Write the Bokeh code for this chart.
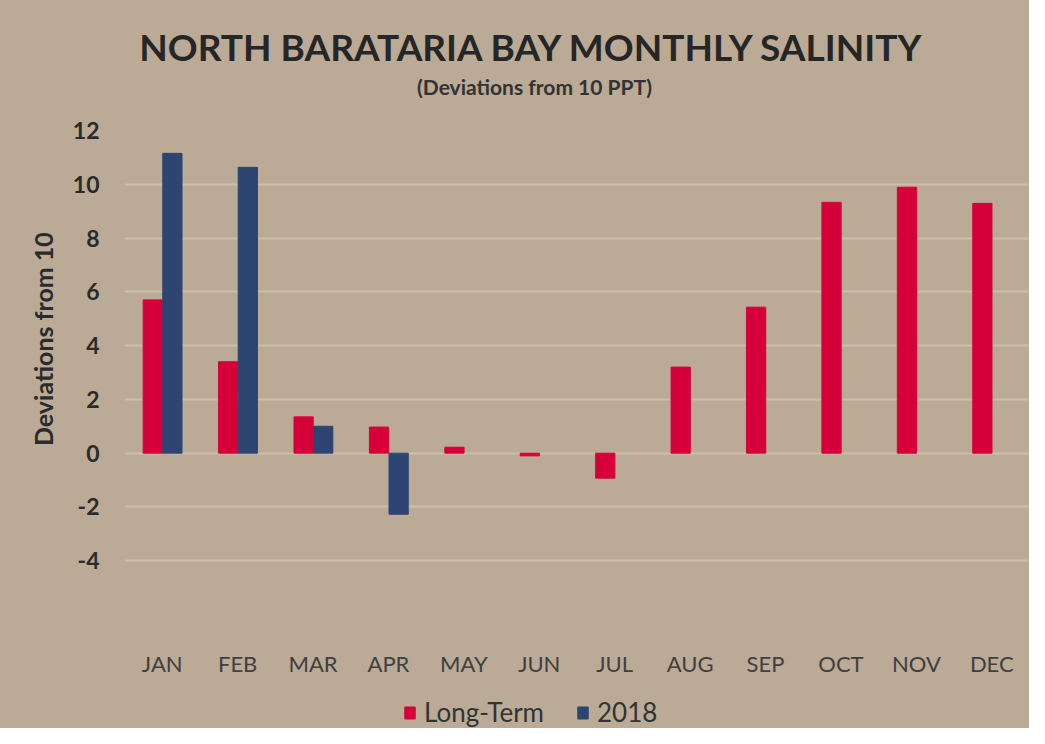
from bokeh.plotting import figure
from bokeh.layouts import column
from bokeh.models import (ColumnDataSource, FactorRange, Range1d, FixedTicker,
                          Legend, LegendItem, Label, CustomJSTickFormatter)
from bokeh.transform import dodge
from bokeh.embed import file_html
from bokeh.resources import INLINE

months = ["JAN", "FEB", "MAR", "APR", "MAY", "JUN", "JUL", "AUG", "SEP", "OCT", "NOV", "DEC"]
long_term = [5.7, 3.4, 1.35, 0.97, 0.22, -0.1, -0.93, 3.2, 5.43, 9.33, 9.89, 9.29]
y2018 = [11.15, 10.63, 1.0, -2.27, None, None, None, None, None, None, None, None]
y_ticks = [-4, -2, 0, 2, 4, 6, 8, 10, 12]
series_names = ["Long-Term", "2018"]
title_text = "NORTH BARATARIA BAY MONTHLY SALINITY"
subtitle_text = "(Deviations from 10 PPT)"
y_label = "Deviations from 10"

BG = "#baaa96"
RED = "#d5003a"
BLUE = "#2d4570"
FONT = "Lato"
W = 1029
LEFT = 124  # frame left edge; column layout aligns every frame to it


def strip(height):
    f = figure(width=W, height=height, x_range=Range1d(LEFT, W), y_range=Range1d(0, height),
               output_backend="svg", toolbar_location=None,
               min_border_left=LEFT, min_border_right=0,
               min_border_top=0, min_border_bottom=0)
    f.axis.visible = False
    f.grid.visible = False
    f.outline_line_color = None
    f.background_fill_color = BG
    f.border_fill_color = BG
    return f


# header with title + subtitle
head = strip(110)
head.add_layout(Label(x=532, y=64, text=title_text, text_align="center",
                      text_baseline="middle", text_font=FONT, text_font_style="bold",
                      text_font_size="37px", text_color="#262626"))
head.add_layout(Label(x=534, y=24, text=subtitle_text, text_align="center",
                      text_baseline="middle", text_font=FONT, text_font_style="bold",
                      text_font_size="21px", text_color="#333333"))

src = ColumnDataSource(dict(month=months, lt=long_term,
                            y18=[float("nan") if v is None else v for v in y2018]))

p = figure(x_range=FactorRange(*months), y_range=Range1d(-6, 12),
           width=W, height=580, output_backend="svg", toolbar_location=None,
           min_border_left=LEFT, min_border_right=0, min_border_top=20,
           min_border_bottom=76)

p.background_fill_color = BG
p.border_fill_color = BG
p.outline_line_color = None

r1 = p.vbar(x=dodge("month", -0.125, range=p.x_range), top="lt", bottom=0,
            width=0.255, source=src, color=RED)
r2 = p.vbar(x=dodge("month", 0.135, range=p.x_range), top="y18", bottom=0,
            width=0.255, source=src, color=BLUE)

p.xgrid.grid_line_color = None
p.ygrid.grid_line_color = "#ccbeaa"
p.ygrid.grid_line_width = 2

p.yaxis.ticker = FixedTicker(ticks=y_ticks)
p.yaxis.formatter = CustomJSTickFormatter(code="return String(tick);")
p.yaxis.axis_line_color = None
p.yaxis.major_tick_line_color = None
p.yaxis.minor_tick_line_color = None
p.yaxis.major_label_text_font = FONT
p.yaxis.major_label_text_font_style = "bold"
p.yaxis.major_label_text_font_size = "23px"
p.yaxis.major_label_text_color = "#2b2b2b"
p.yaxis.major_label_standoff = 19
p.yaxis.axis_label = "\u00a0" * 11 + y_label
p.yaxis.axis_label_text_font = FONT
p.yaxis.axis_label_text_font_style = "bold"
p.yaxis.axis_label_text_font_size = "25px"
p.yaxis.axis_label_text_color = "#2b2b2b"
p.yaxis.axis_label_standoff = 12

p.xaxis.axis_line_color = None
p.xaxis.major_tick_line_color = None
p.xaxis.minor_tick_line_color = None
p.xaxis.major_label_text_font = FONT
p.xaxis.major_label_text_font_size = "22px"
p.xaxis.major_label_text_color = "#404040"
p.xaxis.major_label_standoff = 29

# legend strip (zero-height swatch renderers; only their legend glyphs show)
leg = strip(38)
swatch = ColumnDataSource(dict(x=[0], top=[0]))
g1 = leg.vbar(x="x", top="top", bottom=0, width=1, source=swatch, color=RED)
g2 = leg.vbar(x="x", top="top", bottom=0, width=1, source=swatch, color=BLUE)
legend = Legend(items=[LegendItem(label=series_names[0], renderers=[g1]),
                       LegendItem(label=series_names[1], renderers=[g2])],
                orientation="horizontal", location=(403 - LEFT, 0),
                background_fill_alpha=0, border_line_color=None,
                label_text_font=FONT, label_text_font_size="26px",
                label_text_color="#333333", glyph_width=13, glyph_height=15,
                spacing=32, label_standoff=8, margin=0, padding=1)
leg.add_layout(legend, "center")

layout = column(head, p, leg, spacing=0, styles={"background-color": BG})
open("out.html", "w").write(file_html(layout, INLINE))
